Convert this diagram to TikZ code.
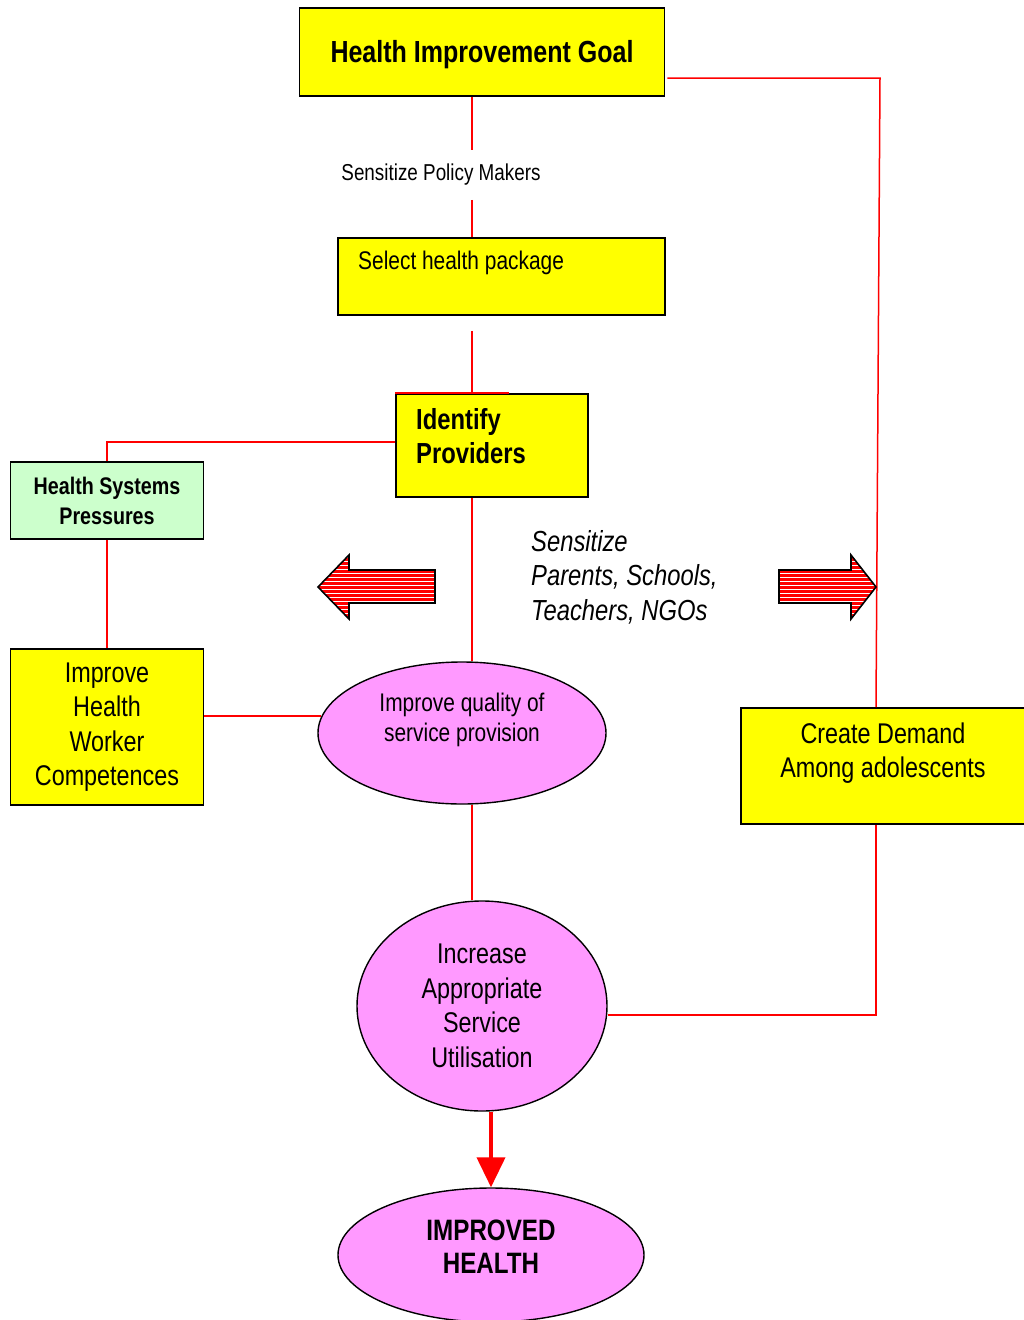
\documentclass[tikz,border=0pt]{standalone}
\usepackage{fontspec}
\setmainfont[FakeStretch=0.82]{Liberation Sans}
\usetikzlibrary{positioning,arrows.meta,shapes.geometric}

\definecolor{boxyellow}{HTML}{FFFF00}
\definecolor{bubblepink}{HTML}{FF99FF}
\definecolor{palegreen}{HTML}{CCFFCC}
\definecolor{linkred}{HTML}{FF0000}

\tikzset{
  box/.style={draw=black,line width=1.6pt,fill=boxyellow,inner sep=0pt,align=center},
  bubble/.style={ellipse,draw=black,line width=1.4pt,fill=bubblepink,inner sep=0pt,align=center},
  link/.style={draw=linkred,line width=1.5pt},
  bigtext/.style={font=\fontsize{28.5}{34.5}\selectfont},
}

\begin{document}
\begin{tikzpicture}[x=1pt,y=-1pt]
\useasboundingbox (0,0) rectangle (1023,1320);
\coordinate (spine) at (472,0);
\coordinate (rside) at (876,0);
\coordinate (corner) at (880,78);
\coordinate (hsplink) at (0,442);
\coordinate (implink) at (321,716);
\coordinate (lowlink) at (0,1015);

% boxes
\node[box,minimum width=365pt,minimum height=88pt,
  label={[font=\bfseries\fontsize{30.5}{36}\selectfont,yshift=-3pt]center:Health Improvement Goal}] (goal) at (482,52) {};
\node[font=\fontsize{23}{26}\selectfont,inner xsep=2pt,inner ysep=14pt] (policy) at (441,175) {Sensitize Policy Makers};
\node[box,minimum width=327pt,minimum height=77pt] (sel) at (501.5,276.5) {};
\node[font=\fontsize{25.5}{28}\selectfont,anchor=west,inner sep=0pt] (seltext) at (358,263) {Select health package};
\node[box,minimum width=192pt,minimum height=103pt] (ident) at (492,445.5) {};
\node[font=\bfseries\fontsize{29}{34}\selectfont,align=left,anchor=west,inner sep=0pt] (identtext) at (416,436) {Identify\\Providers};
\node[box,fill=palegreen,minimum width=193pt,minimum height=77pt,font=\bfseries\fontsize{24}{30}\selectfont] (hsp) at (107,500.5) {Health Systems\\Pressures};
\node[box,bigtext,minimum width=193pt,minimum height=156pt] (imp) at (107,727) {Improve\\Health\\Worker\\Competences};
\node[box,minimum width=284pt,minimum height=116pt,
  label={[bigtext,align=center,yshift=13pt]center:Create Demand\\Among adolescents}] (dem) at (883,766) {};
\node[font=\itshape\fontsize{29}{34.5}\selectfont,align=left,anchor=west,inner sep=0pt] (parents) at (531,577) {Sensitize\\Parents, Schools,\\Teachers, NGOs};

% ellipses
\node[bubble,minimum width=288pt,minimum height=142pt,
  label={[font=\fontsize{25.5}{30}\selectfont,align=center,yshift=13pt]center:Improve quality of\\service provision}] (q) at (462,733) {};
\node[bubble,bigtext,minimum width=250pt,minimum height=210pt] (inc) at (482,1006) {Increase\\Appropriate\\Service\\Utilisation};
\node[bubble,minimum width=306pt,minimum height=134pt,
  label={[font=\bfseries\fontsize{29.5}{33}\selectfont,align=center,yshift=8pt]center:IMPROVED\\HEALTH}] (health) at (491,1255) {};

% connectors
\draw[link] (goal.south -| spine) -- (policy.north -| spine);
\draw[link] (policy.south -| spine) -- (sel.north -| spine);
\draw[link] ([yshift=-15pt]sel.south -| spine) -- (ident.north -| spine);
\draw[link] (ident.north west) -- ++(114,0);
\draw[link] (ident.west |- hsplink) -| (hsp.north);
\draw[link] (hsp.south) -- (imp.north);
\draw[link] (imp.east |- implink) -- (implink);
\draw[link] (ident.south -| spine) -- (q.north -| spine);
\draw[link] (q.south -| spine) -- (inc.north -| spine);
\draw[link] (inc.east |- lowlink) -| (dem.south -| rside);
\draw[link] ([xshift=2pt]goal.east |- corner) -- (corner) -- (dem.north -| rside);
\draw[linkred,line width=4pt,-{Triangle[width=28pt,length=30pt]}] (inc.south -| health) -- (health.north);

% striped block arrows
\begin{scope}
  \clip (318,587) -- (349,555) -- (349,570) -- (435,570) -- (435,603) -- (349,603) -- (349,619) -- cycle;
  \fill[linkred] (310,550) rectangle (440,625);
  \foreach \y in {557,561,...,620} \draw[white,line width=1pt] (310,\y) -- (440,\y);
\end{scope}
\draw[line width=1.6pt,line join=miter] (318,587) -- (349,555) -- (349,570) -- (435,570) -- (435,603) -- (349,603) -- (349,619) -- cycle;

\begin{scope}
  \clip (876,587) -- (851,555) -- (851,570) -- (779,570) -- (779,603) -- (851,603) -- (851,619) -- cycle;
  \fill[linkred] (770,550) rectangle (880,625);
  \foreach \y in {557,561,...,620} \draw[white,line width=1pt] (770,\y) -- (880,\y);
\end{scope}
\draw[line width=1.6pt,line join=miter] (876,587) -- (851,555) -- (851,570) -- (779,570) -- (779,603) -- (851,603) -- (851,619) -- cycle;
\end{tikzpicture}
\end{document}
